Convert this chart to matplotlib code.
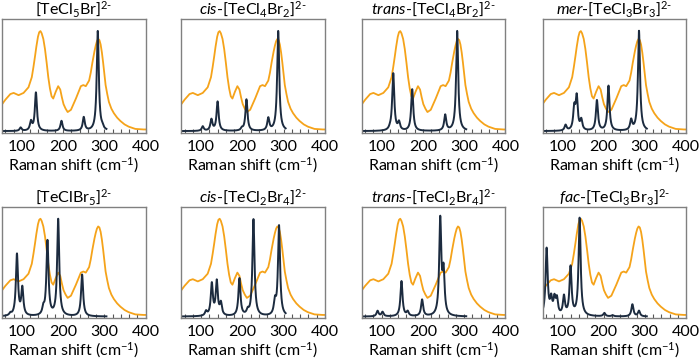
import numpy as np
import matplotlib.pyplot as plt
from matplotlib.ticker import MultipleLocator

plt.rcParams['font.family'] = ['Lato', 'DejaVu Sans']
plt.rcParams['mathtext.fontset'] = 'custom'
plt.rcParams['mathtext.rm'] = 'Lato'
plt.rcParams['mathtext.it'] = 'Lato:italic'

exp_x = [52, 60, 72, 80, 92, 104, 116, 124, 128, 132, 135, 139, 142, 145, 148, 152,
         156, 160, 164, 168, 172, 176, 182, 188, 193, 197, 201, 206, 211, 219, 231,
         243, 249, 255, 263, 267, 271, 276, 279, 282, 285, 288, 291, 294, 297, 300,
         303, 307, 311, 317, 323, 331, 339, 349, 359, 375, 395, 400]
exp_y = [0.24, 0.28, 0.33, 0.34, 0.32, 0.34, 0.39, 0.48, 0.57, 0.67, 0.75, 0.84, 0.88,
         0.89, 0.87, 0.82, 0.73, 0.61, 0.48, 0.38, 0.31, 0.29, 0.35, 0.40, 0.37, 0.30,
         0.24, 0.20, 0.17, 0.19, 0.29, 0.40, 0.41, 0.40, 0.45, 0.52, 0.61, 0.71, 0.76,
         0.80, 0.82, 0.81, 0.77, 0.70, 0.61, 0.51, 0.41, 0.33, 0.26, 0.20, 0.16, 0.12,
         0.09, 0.06, 0.04, 0.02, 0.015, 0.015]

titles = [r'[TeCl$_5$Br]$^{2\text{-}}$',
          r'$\it{cis}$-[TeCl$_4$Br$_2$]$^{2\text{-}}$',
          r'$\it{trans}$-[TeCl$_4$Br$_2$]$^{2\text{-}}$',
          r'$\it{mer}$-[TeCl$_3$Br$_3$]$^{2\text{-}}$',
          r'[TeClBr$_5$]$^{2\text{-}}$',
          r'$\it{cis}$-[TeCl$_2$Br$_4$]$^{2\text{-}}$',
          r'$\it{trans}$-[TeCl$_2$Br$_4$]$^{2\text{-}}$',
          r'$\it{fac}$-[TeCl$_3$Br$_3$]$^{2\text{-}}$']

# calculated Raman lines: positions (cm-1) and heights
calc_pos = [
    [97, 122, 134, 196, 250, 284, 295],
    [104, 125, 140, 199, 210, 263, 287],
    [120, 128, 142, 174, 254, 283],
    [108, 129, 135, 146, 184, 212, 267, 286],
    [72, 88, 101, 152, 162, 188, 246],
    [112, 126, 138, 148, 193, 213, 227, 279, 289],
    [90, 102, 148, 163, 198, 242, 250],
    [62, 73, 81, 87, 104, 120, 142, 202, 222, 270, 286],
]
calc_h = [
    [0.03, 0.08, 0.34, 0.09, 0.12, 0.89, 0.02],
    [0.04, 0.10, 0.26, 0.02, 0.28, 0.11, 0.89],
    [0.01, 0.51, 0.07, 0.37, 0.14, 0.89],
    [0.05, 0.19, 0.29, 0.09, 0.27, 0.40, 0.09, 0.89],
    [0.02, 0.56, 0.25, 0.06, 0.68, 0.88, 0.38],
    [0.04, 0.29, 0.31, 0.11, 0.34, 0.04, 0.88, 0.12, 0.82],
    [0.05, 0.04, 0.32, 0.04, 0.15, 0.87, 0.38],
    [0.61, 0.14, 0.14, 0.14, 0.17, 0.44, 0.89, 0.03, 0.01, 0.11, 0.05],
]

fig = plt.figure(figsize=(7, 3.6), dpi=100)
lefts = [0.003, 0.259, 0.517, 0.775]
rows = [(0.631, 0.317), (0.116, 0.310)]

xs = np.linspace(52, 305, 1200)
g = 3.0
for k in range(8):
    bot, hgt = rows[k // 4]
    ax = fig.add_axes([lefts[k % 4], bot, 0.205, hgt])
    ax.plot(exp_x, exp_y, color='#f5a31a', lw=1.3)
    ys = np.zeros_like(xs)
    for p, h in zip(calc_pos[k], calc_h[k]):
        ys += h * g**2 / ((xs - p)**2 + g**2)
    ax.plot(xs, ys, color='#1c2b3f', lw=1.4)
    ax.set_xlim(52, 400)
    ax.set_ylim(-0.015, 1.0)
    ax.set_yticks([])
    ax.xaxis.set_major_locator(MultipleLocator(100))
    ax.xaxis.set_minor_locator(MultipleLocator(20))
    ax.tick_params(axis='x', which='both', direction='in', length=3, width=0.8,
                   color='#555555', labelsize=11.5, pad=5)
    for s in ax.spines.values():
        s.set_color('#808080')
        s.set_linewidth(1.0)
    ax.set_title(titles[k], fontsize=11.5, pad=3)
    ax.set_xlabel(r'Raman shift (cm$^{-1}$)', fontsize=11.5, labelpad=1)

fig.savefig('out.png', dpi=100)
